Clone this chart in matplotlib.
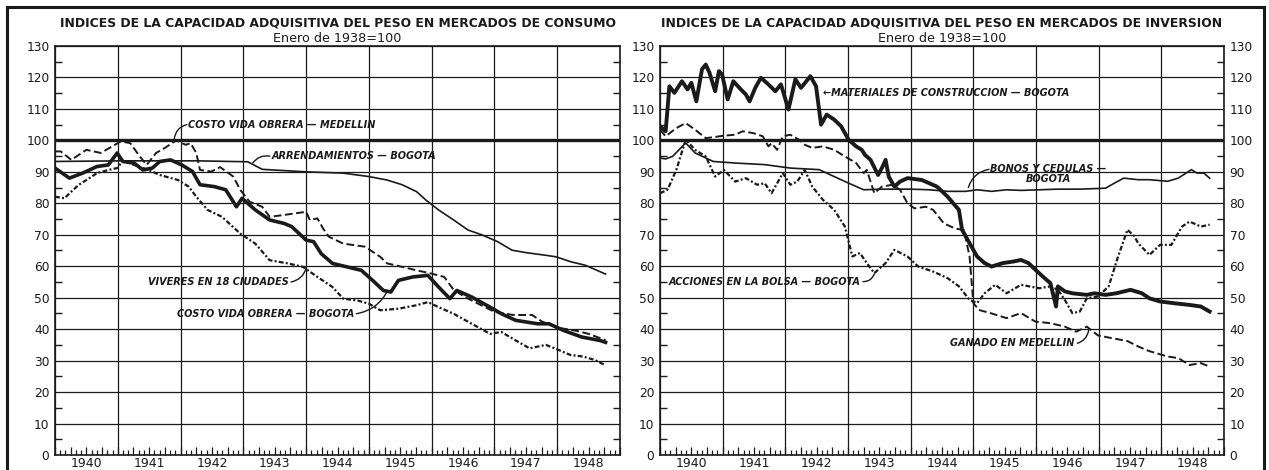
import numpy as np
import matplotlib
matplotlib.use("Agg")
import matplotlib.pyplot as plt
from matplotlib.lines import Line2D

ink = "#1a1a1a"

# ---- mercados de consumo (panel izquierdo) ----
arr_t = [1940.0, 1941.08, 1942.25, 1943.07, 1943.3, 1944.0, 1944.59, 1945.0, 1945.29, 1945.53,
         1945.76, 1945.91, 1946.11, 1946.35, 1946.58, 1946.81, 1947.05, 1947.28, 1947.51,
         1947.81, 1947.98, 1948.22, 1948.45, 1948.77]
arr_v = [93.3, 93.5, 93.5, 93.2, 90.8, 90.0, 89.6, 88.5, 87.4, 85.9,
         83.7, 81.0, 77.9, 74.7, 71.5, 69.9, 67.8, 65.1, 64.3,
         63.5, 63.0, 61.4, 60.3, 57.5]

med_t = [1940.0, 1940.09, 1940.26, 1940.5, 1940.73, 1940.91, 1941.05, 1941.2, 1941.35, 1941.46,
         1941.61, 1941.75, 1941.93, 1942.08, 1942.16, 1942.25, 1942.31, 1942.49, 1942.63, 1942.84,
         1942.95, 1943.1, 1943.3, 1943.42, 1943.65, 1944.0, 1944.06, 1944.18, 1944.27, 1944.36,
         1944.59, 1944.94, 1945.18, 1945.29, 1945.53, 1945.76, 1945.99, 1946.2, 1946.35, 1946.55,
         1946.8, 1947.0, 1947.3, 1947.6, 1947.75, 1948.0, 1948.3, 1948.5, 1948.77]
med_v = [96.5, 96.5, 93.8, 97.0, 96.0, 98.1, 99.7, 99.1, 94.9, 92.2,
         96.0, 97.6, 100.0, 98.6, 99.1, 96.0, 90.6, 90.1, 91.5, 88.5,
         84.3, 80.5, 78.9, 75.7, 76.3, 77.3, 74.7, 75.2, 72.0, 69.4,
         67.2, 66.2, 63.0, 60.9, 59.8, 58.7, 57.7, 56.6, 52.5, 50.0,
         47.5, 45.5, 44.5, 44.5, 42.5, 40.5, 39.5, 38.5, 36.5]

bog_t = [1940.0, 1940.23, 1940.44, 1940.67, 1940.85, 1940.99, 1941.08, 1941.26, 1941.4, 1941.55,
         1941.67, 1941.84, 1942.02, 1942.19, 1942.31, 1942.54, 1942.72, 1942.89, 1942.98, 1943.19,
         1943.42, 1943.65, 1943.77, 1944.0, 1944.12, 1944.24, 1944.42, 1944.65, 1944.88, 1945.06,
         1945.23, 1945.35, 1945.47, 1945.7, 1945.94, 1946.11, 1946.29, 1946.4, 1946.64, 1946.93,
         1947.11, 1947.34, 1947.69, 1947.87, 1948.1, 1948.39, 1948.68, 1948.77]
bog_v = [91.2, 88.0, 89.6, 91.7, 92.2, 96.0, 93.3, 92.8, 90.6, 91.2,
         93.3, 93.8, 92.2, 90.1, 85.9, 85.3, 84.3, 78.9, 81.6, 77.9,
         74.7, 73.6, 72.6, 68.3, 67.8, 64.0, 60.9, 59.8, 58.7, 55.5,
         52.3, 51.8, 55.5, 56.6, 57.1, 53.4, 49.7, 52.3, 50.2, 47.0,
         44.9, 42.8, 41.7, 41.7, 39.6, 37.5, 36.4, 35.8]

viv_t = [1940.0, 1940.15, 1940.26, 1940.38, 1940.5, 1940.67, 1940.85, 1940.99, 1941.08, 1941.26,
         1941.49, 1941.67, 1941.96, 1942.13, 1942.25, 1942.43, 1942.66, 1942.95, 1943.19, 1943.42,
         1943.71, 1943.95, 1944.18, 1944.42, 1944.59, 1944.82, 1945.0, 1945.18, 1945.47, 1945.76,
         1945.94, 1946.11, 1946.35, 1946.64, 1946.93, 1947.11, 1947.34, 1947.56, 1947.82, 1948.02,
         1948.21, 1948.41, 1948.6, 1948.77]
viv_v = [82.1, 81.6, 83.7, 85.9, 87.4, 89.6, 90.6, 91.2, 93.5, 92.2,
         90.6, 89.0, 87.4, 85.3, 82.1, 77.9, 75.7, 70.4, 67.2, 61.9,
         60.9, 59.8, 56.6, 53.4, 49.7, 49.1, 48.1, 46.0, 46.5, 47.6,
         48.6, 47.0, 44.9, 41.7, 38.5, 39.1, 36.4, 33.9, 35.0, 33.4,
         31.8, 31.3, 30.2, 28.5]

# ---- mercados de inversion (panel derecho) ----
mat_t = [1940.0, 1940.09, 1940.15, 1940.23, 1940.35, 1940.44, 1940.5, 1940.58, 1940.67, 1940.73,
         1940.79, 1940.88, 1940.94, 1940.99, 1941.08, 1941.17, 1941.29, 1941.37, 1941.43, 1941.52,
         1941.61, 1941.73, 1941.84, 1941.93, 1942.05, 1942.16, 1942.25, 1942.4, 1942.49, 1942.57,
         1942.66, 1942.78, 1942.89, 1943.01, 1943.13, 1943.22, 1943.27, 1943.36, 1943.48, 1943.54,
         1943.6, 1943.65, 1943.74, 1943.83, 1943.95, 1944.18, 1944.42, 1944.59, 1944.77, 1944.82,
         1944.94, 1945.06, 1945.18, 1945.29, 1945.47, 1945.64, 1945.76, 1945.88, 1945.99, 1946.11,
         1946.23, 1946.32, 1946.35, 1946.46, 1946.58, 1946.81, 1946.93, 1947.11, 1947.28, 1947.51,
         1947.69, 1947.81, 1947.98, 1948.22, 1948.45, 1948.63, 1948.77]
mat_v = [104.5, 102.9, 117.2, 115.1, 118.8, 116.2, 118.3, 112.4, 122.6, 124.1,
         121.5, 115.6, 122.0, 121.0, 113.0, 118.8, 116.2, 114.6, 112.4, 116.7,
         119.9, 117.8, 115.6, 117.8, 109.8, 119.4, 116.7, 120.4, 117.2, 105.0,
         108.2, 106.6, 104.5, 100.2, 98.1, 97.0, 95.4, 93.8, 89.0, 91.2,
         93.8, 88.5, 85.3, 86.9, 88.0, 87.4, 85.3, 82.1, 77.9, 71.6,
         67.3, 63.1, 61.0, 59.9, 61.0, 61.5, 62.0, 61.0, 58.9, 56.7,
         54.6, 47.2, 53.6, 52.0, 51.4, 50.9, 51.4, 50.9, 51.4, 52.5,
         51.4, 49.8, 48.8, 48.2, 47.7, 47.2, 45.6]

bon_t = [1940.0, 1940.09, 1940.2, 1940.41, 1940.56, 1940.85, 1941.2, 1941.67, 1942.08, 1942.54,
         1942.78, 1943.01, 1943.25, 1943.54, 1944.0, 1944.3, 1944.59, 1944.88, 1945.06, 1945.29,
         1945.53, 1945.76, 1946.05, 1946.35, 1946.7, 1947.11, 1947.25, 1947.4, 1947.63, 1947.81,
         1948.1, 1948.27, 1948.48, 1948.57, 1948.68, 1948.77]
bon_v = [94.4, 94.1, 94.9, 99.2, 96.0, 93.3, 92.8, 92.3, 91.2, 90.7,
         88.5, 86.4, 84.3, 84.5, 84.5, 84.3, 83.8, 83.8, 84.3, 83.8,
         84.3, 84.1, 84.3, 84.5, 84.5, 84.8, 86.4, 88.0, 87.5, 87.5,
         87.0, 88.0, 90.7, 89.6, 89.6, 88.0]

gan_t = [1940.0, 1940.09, 1940.26, 1940.41, 1940.56, 1940.73, 1940.88, 1941.02, 1941.2, 1941.32,
         1941.49, 1941.64, 1941.73, 1941.78, 1941.87, 1941.96, 1942.08, 1942.22, 1942.31, 1942.43,
         1942.6, 1942.78, 1942.95, 1943.13, 1943.25, 1943.3, 1943.42, 1943.54, 1943.71, 1943.83,
         1943.95, 1944.06, 1944.24, 1944.36, 1944.53, 1944.71, 1944.85, 1944.94, 1945.0, 1945.09,
         1945.29, 1945.53, 1945.76, 1945.99, 1946.23, 1946.46, 1946.64, 1946.81, 1946.99, 1947.22,
         1947.46, 1947.63, 1947.81, 1948.1, 1948.27, 1948.45, 1948.63, 1948.77]
gan_v = [103.4, 101.3, 103.9, 105.5, 103.4, 100.7, 101.1, 101.5, 101.8, 102.9,
         102.3, 101.3, 98.1, 99.1, 97.0, 101.3, 101.8, 100.2, 98.6, 97.6,
         98.1, 97.0, 94.9, 92.8, 89.6, 90.6, 83.2, 85.3, 85.9, 84.3,
         80.0, 78.4, 78.9, 77.9, 73.6, 72.0, 71.5, 63.1, 48.3, 46.1,
         45.0, 43.5, 45.1, 42.4, 41.9, 40.8, 39.2, 40.8, 38.0, 37.1,
         36.2, 34.5, 33.0, 31.3, 30.8, 28.6, 29.2, 28.1]

acc_t = [1940.0, 1940.12, 1940.26, 1940.41, 1940.56, 1940.73, 1940.88, 1941.02, 1941.2, 1941.37,
         1941.55, 1941.67, 1941.78, 1941.96, 1942.08, 1942.19, 1942.31, 1942.43, 1942.6, 1942.78,
         1942.95, 1943.07, 1943.19, 1943.3, 1943.42, 1943.6, 1943.74, 1943.95, 1944.12, 1944.36,
         1944.59, 1944.77, 1944.94, 1945.06, 1945.18, 1945.35, 1945.53, 1945.76, 1946.05, 1946.23,
         1946.35, 1946.46, 1946.58, 1946.7, 1946.81, 1946.99, 1947.16, 1947.31, 1947.46, 1947.57,
         1947.63, 1947.81, 1947.98, 1948.16, 1948.33, 1948.45, 1948.63, 1948.77]
acc_v = [83.2, 84.3, 90.6, 100.2, 97.0, 94.9, 88.5, 90.6, 86.9, 88.0,
         85.9, 86.4, 83.2, 89.6, 85.9, 86.9, 90.6, 85.3, 81.1, 77.9,
         72.6, 63.1, 64.2, 61.0, 57.8, 61.0, 65.2, 63.1, 59.9, 58.3,
         56.2, 53.6, 49.3, 48.3, 51.4, 54.1, 51.4, 54.1, 53.0, 53.6,
         52.5, 49.3, 45.1, 45.6, 49.8, 50.4, 53.6, 63.1, 71.6, 69.5,
         67.3, 63.6, 66.8, 66.8, 72.6, 74.2, 72.6, 73.2]

base = 100
years = list(range(1940, 1950))
year_labels = [str(y) for y in range(1940, 1949)]
y_ticks = list(range(0, 131, 10))

titles = ["INDICES DE LA CAPACIDAD ADQUISITIVA DEL PESO EN MERCADOS DE CONSUMO",
          "INDICES DE LA CAPACIDAD ADQUISITIVA DEL PESO EN MERCADOS DE INVERSION"]
subtitle = "Enero de 1938=100"

W, H = 1269, 470
fig = plt.figure(figsize=(W / 100, H / 100), dpi=100)
fig.patch.set_facecolor("white")

axL = fig.add_axes([55 / W, 1 - 455 / H, 565 / W, 409 / H])
axR = fig.add_axes([660 / W, 1 - 455 / H, 564 / W, 409 / H])


def frame(ax, right_labels):
    ax.set_xlim(years[0], years[-1])
    ax.set_ylim(0, 130)
    ax.set_xticks(years)
    ax.set_xticklabels([])
    ax.set_xticks([y + 0.5 for y in years[:-1]], minor=True)
    ax.set_xticklabels(year_labels, minor=True, fontsize=9, color=ink)
    ax.tick_params(axis="x", which="both", length=0, pad=1.5)
    ax.set_yticks(y_ticks)
    ax.set_yticklabels([str(v) for v in y_ticks], fontsize=8.8, color=ink)
    ax.set_yticks([v + 5 for v in y_ticks[:-1]], minor=True)
    ax.tick_params(axis="y", which="major", length=0, pad=4,
                   labelright=right_labels, right=True)
    ax.tick_params(axis="y", which="minor", direction="in", length=5, width=1,
                   color=ink, left=True, right=True)
    ax.grid(True, which="major", color=ink, lw=0.9)
    ax.set_axisbelow(True)
    for s in ax.spines.values():
        s.set_color(ink)
        s.set_linewidth(1.2)
    ax.axhline(base, color=ink, lw=2.4)
    sec = ax.secondary_xaxis("bottom")
    sec.set_xticks(np.arange(years[0], years[-1] + 0.01, 0.25))
    sec.set_xticks(np.arange(years[0], years[-1] + 0.01, 1 / 12), minor=True)
    sec.set_xticklabels([])
    sec.tick_params(which="major", direction="in", length=6, width=0.9, color=ink)
    sec.tick_params(which="minor", direction="in", length=3.5, width=0.9, color=ink)
    sec.spines["bottom"].set_visible(False)


frame(axL, False)
frame(axR, True)

dash = (0, (4, 1.8))
dotdash = (0, (2.2, 1.0, 0.9, 1.0))

axL.plot(arr_t, arr_v, color=ink, lw=1.2)
axL.plot(med_t, med_v, color=ink, lw=1.4, ls=dash)
axL.plot(viv_t, viv_v, color=ink, lw=1.6, ls=dotdash)
axL.plot(bog_t, bog_v, color=ink, lw=2.6, solid_joinstyle="round")

axR.plot(bon_t, bon_v, color=ink, lw=1.2)
axR.plot(gan_t, gan_v, color=ink, lw=1.4, ls=dash)
axR.plot(acc_t, acc_v, color=ink, lw=1.6, ls=dotdash)
axR.plot(mat_t, mat_v, color=ink, lw=2.8, solid_joinstyle="round")

lab = dict(fontsize=7.0, fontweight="bold", fontstyle="italic", color=ink, va="center")
lead = dict(arrowstyle="-", lw=1.0, color=ink, shrinkA=0, shrinkB=0)


def label(ax, text, xy_text, ha, xy_tip, start, rad):
    ax.text(xy_text[0], xy_text[1], text, ha=ha, **lab)
    ax.annotate("", xy=xy_tip, xytext=start,
                arrowprops=dict(connectionstyle="arc3,rad=%s" % rad, **lead))


label(axL, "COSTO VIDA OBRERA — MEDELLIN", (1942.12, 105), "left",
      (1941.9, 100.4), (1942.1, 105), 0.35)
label(axL, "ARRENDAMIENTOS — BOGOTA", (1943.45, 95.0), "left",
      (1943.15, 92.8), (1943.42, 95.0), 0.3)
label(axL, "VIVERES EN 18 CIUDADES", (1943.72, 55.0), "right",
      (1944.0, 59.3), (1943.76, 55.0), 0.3)
label(axL, "COSTO VIDA OBRERA — BOGOTA", (1944.76, 44.9), "right",
      (1945.3, 52.3), (1944.8, 44.9), 0.25)

axR.text(1942.6, 115.1, "←MATERIALES DE CONSTRUCCION — BOGOTA", ha="left", **lab)
axR.text(1946.2, 89.3, "BONOS Y CEDULAS —\nBOGOTA", ha="center", linespacing=1.1, **lab)
axR.annotate("", xy=(1944.92, 85.0), xytext=(1945.25, 90.8),
             arrowprops=dict(connectionstyle="arc3,rad=0.3", **lead))
label(axR, "ACCIONES EN LA BOLSA — BOGOTA", (1943.2, 55.1), "right",
      (1943.42, 57.6), (1943.24, 55.1), 0.35)
label(axR, "GANADO EN MEDELLIN", (1946.62, 35.5), "right",
      (1946.84, 39.6), (1946.66, 35.5), 0.3)

for ax, t in zip([axL, axR], titles):
    pos = ax.get_position()
    cx = (pos.x0 + pos.x1) / 2
    fig.text(cx, 1 - 23 / H, t, ha="center", va="center", fontsize=8.9,
             fontweight="bold", color=ink)
    fig.text(cx, 1 - 39 / H, subtitle, ha="center", va="center", fontsize=9.2, color=ink)

# marco exterior
for xs, ys in [([7 / W, 7 / W], [0, 1 - 7 / H]),
               ([7 / W, 1264 / W], [1 - 7 / H, 1 - 7 / H]),
               ([1264 / W, 1264 / W], [0, 1 - 7 / H])]:
    fig.add_artist(Line2D(xs, ys, transform=fig.transFigure, color=ink, lw=2.2))

fig.savefig("out.png", dpi=100, facecolor="white")
